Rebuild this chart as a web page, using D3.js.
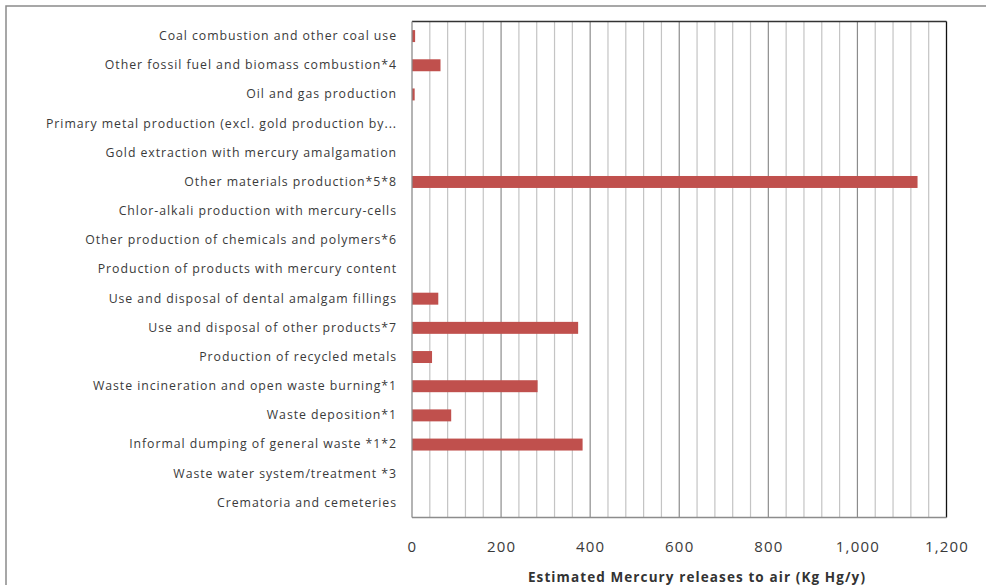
<!DOCTYPE html>
<html>
<head>
<meta charset="utf-8">
<script src="https://cdn.jsdelivr.net/npm/d3@7"></script>
<style>
  html, body { margin: 0; padding: 0; background: #fff; }
  svg { display: block; }
</style>
</head>
<body>
<svg id="chart" width="986" height="585"></svg>
<script>
// Source categories, top to bottom
const categories = [
  "Coal combustion and other coal use",
  "Other fossil fuel and biomass combustion*4",
  "Oil and gas production",
  "Primary metal production (excl. gold production by...",
  "Gold extraction with mercury amalgamation",
  "Other materials production*5*8",
  "Chlor-alkali production with mercury-cells",
  "Other production of chemicals and polymers*6",
  "Production of products with mercury content",
  "Use and disposal of dental amalgam fillings",
  "Use and disposal of other products*7",
  "Production of recycled metals",
  "Waste incineration and open waste burning*1",
  "Waste deposition*1",
  "Informal dumping of general waste *1*2",
  "Waste water system/treatment *3",
  "Crematoria and cemeteries"
];

// Estimated releases to air, Kg Hg/y
const releases = [7, 64, 6, 0, 0, 1135, 0, 0, 0, 59, 373, 45, 282, 88, 383, 0, 0];

const xTicks = [0, 200, 400, 600, 800, 1000, 1200];
const minorStep = 40;
const xTitle = "Estimated  Mercury releases to air (Kg Hg/y)";

const svg = d3.select("#chart");
const plotL = 412, plotR = 946.5, plotT = 21.5, plotB = 517.5;
const font = "'Open Sans', Lato, sans-serif";

// outer chart frame
svg.append("rect")
  .attr("x", 6).attr("y", 6).attr("width", 1000).attr("height", 600)
  .attr("fill", "#fff").attr("stroke", "#8a8a8a").attr("stroke-width", 1.5);

const x = d3.scaleLinear().domain([0, 1200]).range([plotL, plotR]);
const y = d3.scaleBand().domain(categories).range([plotT, plotB]).paddingInner(0.59).paddingOuter(0.295);

// minor grid
const minor = d3.range(minorStep, 1200, minorStep).filter(v => v % 200 !== 0);
svg.append("g").selectAll("line").data(minor).join("line")
  .attr("x1", d => x(d)).attr("x2", d => x(d))
  .attr("y1", plotT).attr("y2", plotB)
  .attr("stroke", "#c4c4c4").attr("stroke-width", 1.2);

// major grid
svg.append("g").selectAll("line").data(xTicks.filter(v => v > 0 && v < 1200)).join("line")
  .attr("x1", d => x(d)).attr("x2", d => x(d))
  .attr("y1", plotT).attr("y2", plotB)
  .attr("stroke", "#8c8c8c").attr("stroke-width", 1.2);

// plot frame
svg.append("line").attr("x1", plotL).attr("x2", plotR).attr("y1", plotT).attr("y2", plotT)
  .attr("stroke", "#333").attr("stroke-width", 1.3);
svg.append("line").attr("x1", plotR).attr("x2", plotR).attr("y1", plotT).attr("y2", plotB)
  .attr("stroke", "#111").attr("stroke-width", 1.3);
svg.append("line").attr("x1", plotL).attr("x2", plotR).attr("y1", plotB).attr("y2", plotB)
  .attr("stroke", "#8c8c8c").attr("stroke-width", 1.3);

// bars
svg.append("g").selectAll("rect").data(categories.map((c, i) => ({c, v: releases[i]}))).join("rect")
  .attr("x", x(0))
  .attr("y", d => y(d.c))
  .attr("width", d => x(d.v) - x(0))
  .attr("height", y.bandwidth())
  .attr("fill", "#c0504d");

// y axis line
svg.append("line").attr("x1", plotL).attr("x2", plotL).attr("y1", plotT).attr("y2", plotB)
  .attr("stroke", "#8c8c8c").attr("stroke-width", 1.3);

// category labels
const yAxis = svg.append("g")
  .attr("transform", `translate(${plotL},0)`)
  .call(d3.axisLeft(y).tickSize(0).tickPadding(15));
yAxis.select(".domain").remove();
yAxis.selectAll("text")
  .attr("font-family", font)
  .attr("font-size", 12.3)
  .attr("letter-spacing", 0.95)
  .attr("fill", "#3a3a3a");

// x tick labels
const xAxis = svg.append("g")
  .attr("transform", `translate(0,${plotB})`)
  .call(d3.axisBottom(x).tickValues(xTicks).tickSize(0).tickPadding(24).tickFormat(d3.format(",")));
xAxis.select(".domain").remove();
xAxis.selectAll("text")
  .attr("font-family", font)
  .attr("font-size", 15)
  .attr("letter-spacing", 1.2)
  .attr("fill", "#3a3a3a");

// x axis title
svg.append("text")
  .attr("x", 697).attr("y", 582)
  .attr("text-anchor", "middle")
  .attr("font-family", font)
  .attr("font-weight", "bold")
  .attr("font-size", 13.5)
  .attr("letter-spacing", 1.1)
  .attr("fill", "#333")
  .text(xTitle);
</script>
</body>
</html>
